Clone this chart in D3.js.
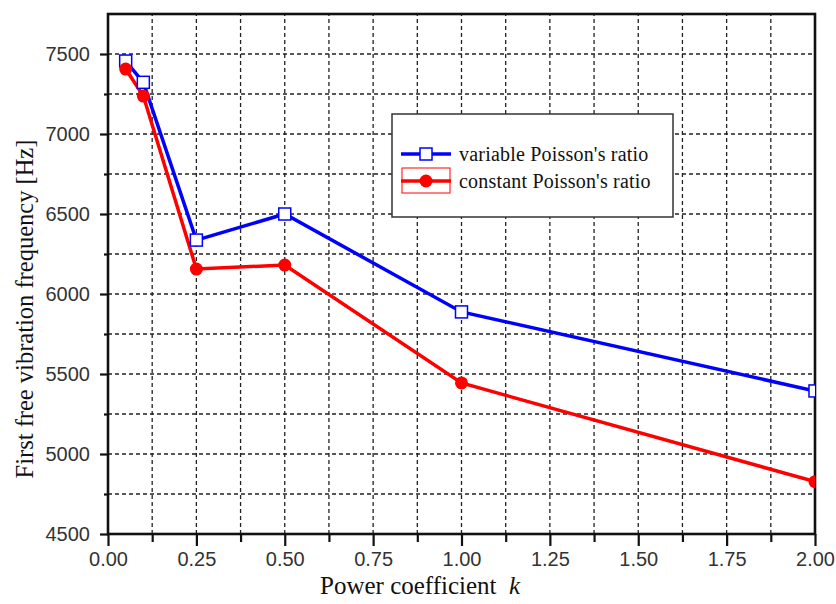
<!DOCTYPE html>
<html>
<head>
<meta charset="utf-8">
<script src="https://cdn.jsdelivr.net/npm/d3@7"></script>
<style>
  body { margin: 0; background: #fff; }
  svg { display: block; }
</style>
</head>
<body>
<svg width="836" height="604"></svg>
<script>
// values
const kValues = [0.05, 0.1, 0.25, 0.5, 1.0, 2.0];
const variablePoisson = [7456, 7323, 6337, 6500, 5888, 5394];
const constantPoisson = [7406, 7237, 6156, 6181, 5444, 4827];
const xTickLabels = ["0.00", "0.25", "0.50", "0.75", "1.00", "1.25", "1.50", "1.75", "2.00"];
const yTickValues = [4500, 5000, 5500, 6000, 6500, 7000, 7500];
const seriesNames = ["variable Poisson's ratio", "constant Poisson's ratio"];

const svg = d3.select("svg");
const margin = {left: 108, right: 21, top: 14, bottom: 70};
const width = 836, height = 604;

const x = d3.scaleLinear().domain([0, 2]).range([margin.left, width - margin.right]);
const y = d3.scaleLinear().domain([4500, 7750]).range([height - margin.bottom, margin.top]);

svg.append("defs").append("clipPath").attr("id", "plotClip")
    .append("rect")
    .attr("x", x(0)).attr("y", y(7750))
    .attr("width", x(2) - x(0)).attr("height", y(4500) - y(7750));

// dashed grid every minor step
const gridX = d3.range(0.125, 2, 0.125);
const gridY = d3.range(4750, 7750, 250);

const grid = svg.append("g").attr("class", "grid")
    .attr("stroke", "#222").attr("stroke-width", 1.3).attr("stroke-dasharray", "4,3");

grid.selectAll("line.gx").data(gridX).enter().append("line")
    .attr("x1", d => x(d)).attr("x2", d => x(d))
    .attr("y1", y(4500)).attr("y2", y(7750));

grid.selectAll("line.gy").data(gridY).enter().append("line")
    .attr("x1", x(0)).attr("x2", x(2))
    .attr("y1", d => y(d)).attr("y2", d => y(d));

// axes
const xAxis = d3.axisBottom(x)
    .tickValues(d3.range(0, 2.001, 0.25))
    .tickFormat((d, i) => xTickLabels[i])
    .tickSize(12).tickPadding(6);

const xMinor = d3.axisBottom(x)
    .tickValues(d3.range(0.125, 2, 0.25))
    .tickFormat("")
    .tickSize(8);

const yAxis = d3.axisLeft(y)
    .tickValues(yTickValues)
    .tickFormat(d3.format("d"))
    .tickSize(8).tickPadding(10);

const yMinor = d3.axisLeft(y)
    .tickValues(d3.range(4750, 7750, 500))
    .tickFormat("")
    .tickSize(4);

const styleAxis = g => {
    g.select(".domain").remove();
    g.selectAll(".tick line").attr("stroke", "#111").attr("stroke-width", 2.2);
    g.selectAll(".tick text")
        .attr("fill", "#333")
        .style("font-family", "'Liberation Sans', Arial, sans-serif")
        .style("font-size", "20px");
};

svg.append("g").attr("transform", `translate(0,${y(4500)})`).call(xAxis).call(styleAxis);
svg.append("g").attr("transform", `translate(0,${y(4500)})`).call(xMinor).call(styleAxis);
svg.append("g").attr("transform", `translate(${x(0)},0)`).call(yAxis).call(styleAxis);
svg.append("g").attr("transform", `translate(${x(0)},0)`).call(yMinor).call(styleAxis);

// frame
svg.append("rect")
    .attr("x", x(0)).attr("y", y(7750))
    .attr("width", x(2) - x(0)).attr("height", y(4500) - y(7750))
    .attr("fill", "none").attr("stroke", "#111").attr("stroke-width", 2.6);

// series
const line = d3.line().x(d => x(d[0])).y(d => y(d[1]));
const blueData = kValues.map((k, i) => [k, variablePoisson[i]]);
const redData = kValues.map((k, i) => [k, constantPoisson[i]]);

const plot = svg.append("g").attr("clip-path", "url(#plotClip)");

plot.append("path").datum(redData)
    .attr("d", line).attr("fill", "none")
    .attr("stroke", "#ff0000").attr("stroke-width", 3.5);

plot.append("path").datum(blueData)
    .attr("d", line).attr("fill", "none")
    .attr("stroke", "#0000ff").attr("stroke-width", 3.5);

plot.selectAll("rect.sq").data(blueData).enter().append("rect")
    .attr("class", "sq")
    .attr("x", d => x(d[0]) - 6).attr("y", d => y(d[1]) - 6)
    .attr("width", 12).attr("height", 12)
    .attr("fill", "#fff").attr("stroke", "#0000ff").attr("stroke-width", 1.5);

plot.selectAll("circle.dot").data(redData).enter().append("circle")
    .attr("class", "dot")
    .attr("cx", d => x(d[0])).attr("cy", d => y(d[1]))
    .attr("r", 6.5)
    .attr("fill", "#ff0000");

// legend
const legend = svg.append("g");
legend.append("rect")
    .attr("x", 392).attr("y", 114).attr("width", 281).attr("height", 103)
    .attr("fill", "#fff").attr("stroke", "#333").attr("stroke-width", 1.5);

const legendRows = [
    {name: seriesNames[0], color: "#0000ff", cy: 154, marker: "square"},
    {name: seriesNames[1], color: "#ff0000", cy: 181, marker: "circle"}
];

legendRows.forEach(row => {
    legend.append("line")
        .attr("x1", 401).attr("x2", 451)
        .attr("y1", row.cy).attr("y2", row.cy)
        .attr("stroke", row.color).attr("stroke-width", 3.5);
    if (row.marker === "square") {
        legend.append("rect")
            .attr("x", 420).attr("y", row.cy - 6).attr("width", 12).attr("height", 12)
            .attr("fill", "#fff").attr("stroke", row.color).attr("stroke-width", 1.5);
    } else {
        legend.append("rect")
            .attr("x", 402).attr("y", row.cy - 13).attr("width", 48).attr("height", 25)
            .attr("fill", "none").attr("stroke", row.color).attr("stroke-width", 1);
        legend.append("circle")
            .attr("cx", 426).attr("cy", row.cy).attr("r", 6.5)
            .attr("fill", row.color);
    }
    legend.append("text")
        .attr("x", 459).attr("y", row.cy + 7)
        .attr("fill", "#111")
        .style("font-family", "'Liberation Serif', 'Times New Roman', serif")
        .style("font-size", "20px")
        .style("letter-spacing", "0.2px")
        .text(row.name);
});

// axis titles
svg.append("text")
    .attr("transform", `translate(33,309) rotate(-90)`)
    .attr("text-anchor", "middle")
    .attr("fill", "#111")
    .style("font-family", "'Liberation Serif', 'Times New Roman', serif")
    .style("font-size", "24.5px")
    .text("First free vibration frequency [Hz]");

const xTitle = svg.append("text")
    .attr("x", 320).attr("y", 594)
    .attr("fill", "#111")
    .style("font-family", "'Liberation Serif', 'Times New Roman', serif")
    .style("font-size", "25px")
    .attr("xml:space", "preserve");
xTitle.append("tspan").text("Power coefficient  ");
xTitle.append("tspan").style("font-style", "italic").text("k");
</script>
</body>
</html>
